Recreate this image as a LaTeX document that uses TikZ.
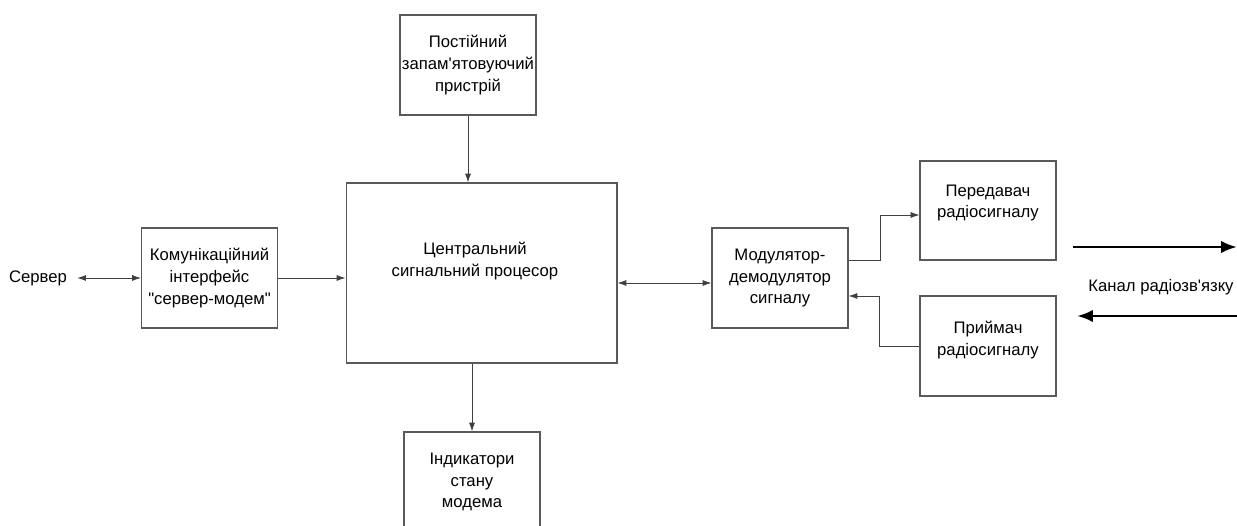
\documentclass[tikz,border=0pt]{standalone}
\usepackage{fontspec}
\setmainfont{Liberation Sans}
\usetikzlibrary{arrows.meta,positioning}

\tikzstyle{block} = [draw=black!65, line width=0.6pt, rectangle, minimum width=2.72cm, minimum height=2cm, align=center, inner sep=1pt]
\tikzstyle{conn} = [draw=black!75, line width=0.5pt, -{Latex[length=5pt,width=3.4pt]}]
\tikzstyle{radio} = [draw=black, line width=1.6pt, -{Latex[length=9pt,width=7pt]}]

\begin{document}
\begin{tikzpicture}[x=0.02cm, y=-0.02cm, font=\fontsize{9.5}{12.3}\selectfont]
\useasboundingbox (0,0) rectangle (1237,526);
\clip (0,0) rectangle (1237,526);

% blocks
\node[block] (rom) at (468,65) {Постійний\\запам\textquotesingle ятовуючий\\пристрій};
\node[block, minimum width=5.42cm, minimum height=3.6cm] (cpu) at (481.5,273) {};
\node (cpulbl) at (475,261) [align=center] {Центральний\\сигнальний процесор};
\node[block] (ind) at (472,482) {Індикатори\\стану\\модема};
\node[block] (comm) at (209.5,278) {Комунікаційний\\інтерфейс\\\textquotedbl сервер-модем\textquotedbl};
\node (server) at (38,278) {Сервер};
\node[block] (modem) at (780,278) {Модулятор-\\демодулятор\\сигналу};
\node[block, minimum height=1.98cm] (tx) at (988,210.5) {};
\node (txlbl) at (988,203) [align=center] {Передавач\\радіосигналу};
\node[block] (rx) at (988,346) {};
\node (rxlbl) at (988,340) [align=center] {Приймач\\радіосигналу};
\node (chan) at (1161,287) {Канал радіозв\textquotesingle язку};

% connectors
\draw[conn, {Latex[length=5pt,width=3.4pt]}-{Latex[length=5pt,width=3.4pt]}] (server.east) ++(0.08cm,0) coordinate (srv) (srv) -- (comm.west);
\draw[conn] (comm.east) -- (comm.east -| cpu.west);
\draw[conn] (rom.south) -- (rom.south |- cpu.north);
\draw[conn] (cpu.south -| ind.north) -- (ind.north);
\coordinate (cm) at ([yshift=-0.1cm]modem.west);
\draw[conn, {Latex[length=5pt,width=3.4pt]}-{Latex[length=5pt,width=3.4pt]}] (cm -| cpu.east) -- (cm);
\draw[conn] ([yshift=0.36cm]modem.east) -- ++(0.64cm,0) |- ([yshift=-0.09cm]tx.west);
\draw[conn] (rx.west) -- ++(-0.8cm,0) |- ([yshift=-0.36cm]modem.east);

% radio channel
\coordinate (txa) at (1073,247);
\coordinate (txb) at (1237,247);
\coordinate (rxa) at (1237,316);
\coordinate (rxb) at (1077,316);
\draw[radio] (txa) -- (txb);
\draw[radio] (rxa) -- (rxb);
\end{tikzpicture}
\end{document}
